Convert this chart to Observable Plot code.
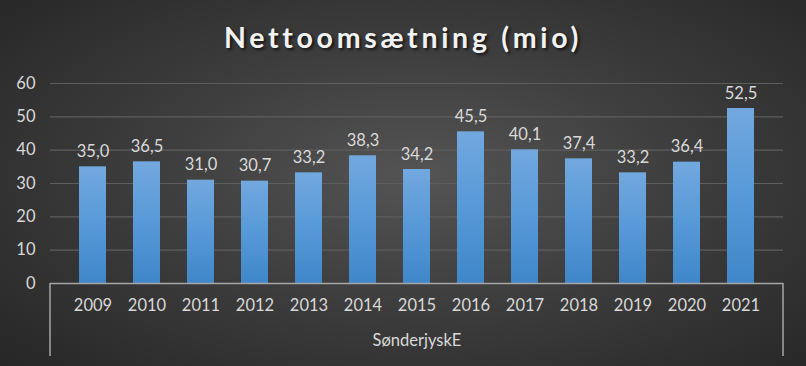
<!DOCTYPE html>
<html>
<head>
<meta charset="utf-8">
<script src="https://cdn.jsdelivr.net/npm/d3@7"></script>
<script src="https://cdn.jsdelivr.net/npm/@observablehq/plot@0.6"></script>
<style>
  html, body { margin: 0; padding: 0; background: #2a2a2a; }
  #wrap {
    width: 806px; height: 366px; overflow: hidden; position: relative;
    background: radial-gradient(ellipse 70% 75% at 52% 48%, #545454 0%, #3c3c3c 50%, #272727 100%);
    font-family: Lato, "Open Sans", sans-serif;
  }
  #title {
    height: 70px; box-sizing: border-box; padding-top: 21px;
    text-align: center; color: #f2f2f2; font-weight: 700; font-size: 28.5px;
    letter-spacing: 3.7px; line-height: 32px;
    text-shadow: 2px 2px 3px rgba(0,0,0,0.65);
  }
  #chart svg { display: block; }
</style>
</head>
<body>
<div id="wrap">
  <div id="title">Nettoomsætning (mio)</div>
  <div id="chart"></div>
</div>
<script>
const years = ["2009","2010","2011","2012","2013","2014","2015","2016","2017","2018","2019","2020","2021"];
const values = [35.0, 36.5, 31.0, 30.7, 33.2, 38.3, 34.2, 45.5, 40.1, 37.4, 33.2, 36.4, 52.5];
const yTicks = [0, 10, 20, 30, 40, 50, 60];
const groupLabel = "SønderjyskE";

const data = years.map((year, i) => ({year, value: values[i]}));
const fmt = v => d3.format(".1f")(v).replace(".", ",");

const chart = Plot.plot({
  width: 806,
  height: 296,
  marginLeft: 50,
  marginRight: 23,
  marginTop: 13,
  marginBottom: 83,
  style: {background: "transparent", color: "#d9d9d9", fontFamily: "Lato, 'Open Sans', sans-serif", fontSize: "16.5px"},
  x: {domain: years, padding: 0.5, label: null, tickSize: 0, tickPadding: 16},
  y: {domain: [0, 60], ticks: yTicks, label: null, tickSize: 0, tickPadding: 15},
  marks: [
    Plot.ruleY(yTicks.slice(1), {stroke: "#5e5e5e", strokeWidth: 1.2}),
    Plot.barY(data, {x: "year", y: "value", fill: "url(#barGrad)", style: "filter: drop-shadow(2px 1px 2px rgba(0,0,0,0.35))"}),
    Plot.ruleY([0], {stroke: "#a6a6a6", strokeWidth: 1.5}),
    Plot.text(data, {x: "year", y: "value", text: d => fmt(d.value), dy: -15, fill: "#d9d9d9", fontSize: 16.5}),
    Plot.text([groupLabel], {frameAnchor: "bottom", text: d => d, dy: 62, fill: "#d9d9d9", fontSize: 16.5})
  ]
});

const svg = d3.select(chart);
svg.insert("defs", ":first-child").html(`
  <linearGradient id="barGrad" x1="0" y1="0" x2="0" y2="1">
    <stop offset="0%" stop-color="#72a8de"/>
    <stop offset="50%" stop-color="#5799d8"/>
    <stop offset="100%" stop-color="#3f87c9"/>
  </linearGradient>`);

// Category group separators at the outer band edges
const xs = chart.scale("x");
const ys = chart.scale("y");
const y0 = ys.apply(0);
const sep = svg.append("g").attr("stroke", "#a6a6a6").attr("stroke-width", 1.5);
xs.range.forEach(x => {
  sep.append("line").attr("x1", x).attr("x2", x).attr("y1", y0).attr("y2", y0 + 73);
});

document.getElementById("chart").appendChild(chart);
</script>
</body>
</html>
